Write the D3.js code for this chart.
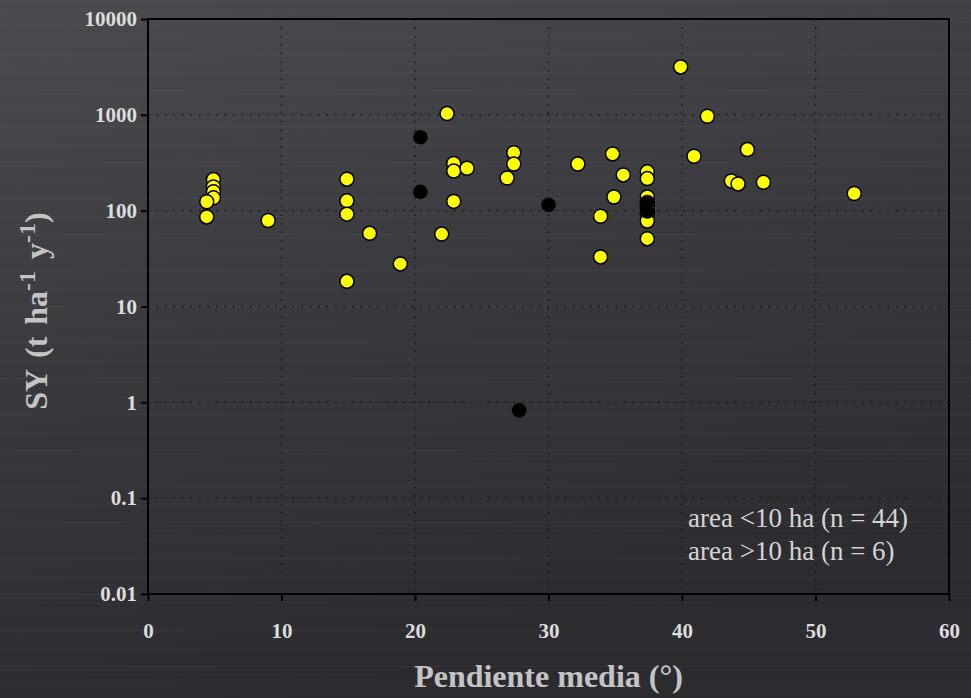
<!DOCTYPE html>
<html>
<head>
<meta charset="utf-8">
<script src="https://cdn.jsdelivr.net/npm/d3@7"></script>
<style>
  html, body { margin: 0; padding: 0; background: #333337; }
  svg { display: block; }
</style>
</head>
<body>
<div id="chart"></div>
<script>
// small catchments (< 10 ha), yellow
const smallSlope = [4.9, 4.9, 4.9, 4.9, 4.4, 4.4,
  9.0,
  14.9, 14.9, 14.9, 14.9,
  16.6, 18.9, 22.0, 22.4,
  22.9, 22.9, 22.9, 23.9,
  26.9, 27.4, 27.4,
  32.2, 34.8, 35.6, 34.9, 33.9, 33.9,
  37.4, 37.4, 37.4, 37.4, 37.4, 37.4, 37.4, 37.4,
  39.9, 41.9, 40.9, 44.9, 43.7, 44.2, 46.1, 52.9];
const smallSY = [211, 177, 158, 136, 124, 86,
  79,
  213, 127, 92, 18.3,
  58, 27.8, 57, 1031,
  311, 259, 125, 277,
  219, 403, 307,
  307, 391, 236, 139, 87.5, 32.9,
  254, 216, 139, 122, 108, 93, 78, 51,
  3160, 967, 370, 434, 204, 190, 198, 151];
// large catchments (> 10 ha), black
const largeSlope = [20.4, 20.4, 30.0, 27.8, 37.4, 37.4];
const largeSY = [584, 157, 115, 0.825, 119, 98];

const yTicks = [0.01, 0.1, 1, 10, 100, 1000, 10000];
const xTicks = [0, 10, 20, 30, 40, 50, 60];
const legendLines = ["area <10 ha (n = 44)", "area >10 ha (n = 6)"];

const W = 971, H = 698;
const plotL = 148, plotR = 949, plotT = 19, plotB = 594;
const serif = "'Liberation Serif', 'Times New Roman', serif";

const svg = d3.select("#chart").append("svg")
    .attr("width", W)
    .attr("height", H);

// background: dark brushed look
const defs = svg.append("defs");
const grad = defs.append("linearGradient")
    .attr("id", "bg").attr("x1", 0).attr("y1", 0).attr("x2", 0.3).attr("y2", 1);
grad.append("stop").attr("offset", "0%").attr("stop-color", "#4b4b50");
grad.append("stop").attr("offset", "50%").attr("stop-color", "#3a3a3e");
grad.append("stop").attr("offset", "100%").attr("stop-color", "#2c2c30");
svg.append("rect").attr("width", W).attr("height", H).attr("fill", "url(#bg)");

// faint horizontal streaks
const streaks = d3.range(0, H, 6);
svg.append("g")
  .selectAll("line")
  .data(streaks)
  .enter().append("line")
    .attr("x1", 0).attr("x2", W)
    .attr("y1", d => d + 0.5).attr("y2", d => d + 0.5)
    .attr("stroke", (d, i) => i % 3 === 0 ? "#ffffff" : "#000000")
    .attr("stroke-opacity", (d, i) => i % 2 === 0 ? 0.025 : 0.04);

const x = d3.scaleLinear().domain([0, 60]).range([plotL, plotR]);
const y = d3.scaleLog().domain([0.01, 10000]).range([plotB, plotT]);

// dotted grid
const grid = svg.append("g")
    .attr("stroke", "#111")
    .attr("stroke-width", 1.3)
    .attr("stroke-dasharray", "1.5,7");
grid.selectAll(".gh")
  .data(yTicks.slice(1, -1))
  .enter().append("line")
    .attr("x1", plotL).attr("x2", plotR)
    .attr("y1", d => y(d)).attr("y2", d => y(d));
grid.selectAll(".gv")
  .data(xTicks.slice(1, -1))
  .enter().append("line")
    .attr("y1", plotT).attr("y2", plotB)
    .attr("x1", d => x(d)).attr("x2", d => x(d));

// axes
const fmt = d => d3.format("~g")(d);
const yAxis = svg.append("g")
    .attr("transform", `translate(${plotL},0)`)
    .call(d3.axisLeft(y).tickValues(yTicks).tickFormat(fmt).tickSize(7).tickPadding(4));
const xAxis = svg.append("g")
    .attr("transform", `translate(0,${plotB})`)
    .call(d3.axisBottom(x).tickValues(xTicks).tickSize(7).tickPadding(22));

[yAxis, xAxis].forEach(a => {
  a.select(".domain").remove();
  a.selectAll("line").attr("stroke", "#000").attr("stroke-width", 2);
  a.selectAll("text")
    .attr("fill", "#dcdcdc")
    .style("font-family", serif)
    .style("font-weight", "bold")
    .style("font-size", "21px");
});

// frame
svg.append("rect")
    .attr("x", plotL).attr("y", plotT)
    .attr("width", plotR - plotL).attr("height", plotB - plotT)
    .attr("fill", "none")
    .attr("stroke", "#000")
    .attr("stroke-width", 2);

// points
const small = smallSlope.map((s, i) => ({ s, v: smallSY[i] }));
const large = largeSlope.map((s, i) => ({ s, v: largeSY[i] }));

svg.append("g")
  .selectAll("circle")
  .data(small)
  .enter().append("circle")
    .attr("cx", d => x(d.s))
    .attr("cy", d => y(d.v))
    .attr("r", 7)
    .attr("fill", "#ffff00")
    .attr("stroke", "#000")
    .attr("stroke-width", 1.5);

svg.append("g")
  .selectAll("circle")
  .data(large)
  .enter().append("circle")
    .attr("cx", d => x(d.s))
    .attr("cy", d => y(d.v))
    .attr("r", 7.3)
    .attr("fill", "#000");

// legend text
svg.append("g")
  .selectAll("text")
  .data(legendLines)
  .enter().append("text")
    .attr("x", 688)
    .attr("y", (d, i) => 527 + i * 33)
    .attr("fill", "#d4d4d4")
    .style("font-family", serif)
    .style("font-size", "27px")
    .text(d => d);

// axis titles
svg.append("text")
    .attr("x", (plotL + plotR) / 2)
    .attr("y", 687)
    .attr("text-anchor", "middle")
    .attr("fill", "#c4c4c4")
    .style("font-family", serif)
    .style("font-weight", "bold")
    .style("font-size", "32px")
    .text("Pendiente media (°)");

const yt = svg.append("text")
    .attr("transform", "translate(47,311) rotate(-90)")
    .attr("text-anchor", "middle")
    .attr("fill", "#c4c4c4")
    .style("font-family", serif)
    .style("font-weight", "bold")
    .style("font-size", "32px")
    .style("word-spacing", "4px");
yt.append("tspan").text("SY (t ha");
yt.append("tspan").attr("dy", -12).style("font-size", "24px").text("-1");
yt.append("tspan").attr("dy", 12).text(" y");
yt.append("tspan").attr("dy", -12).style("font-size", "24px").text("-1");
yt.append("tspan").attr("dy", 12).text(")");
</script>
</body>
</html>
